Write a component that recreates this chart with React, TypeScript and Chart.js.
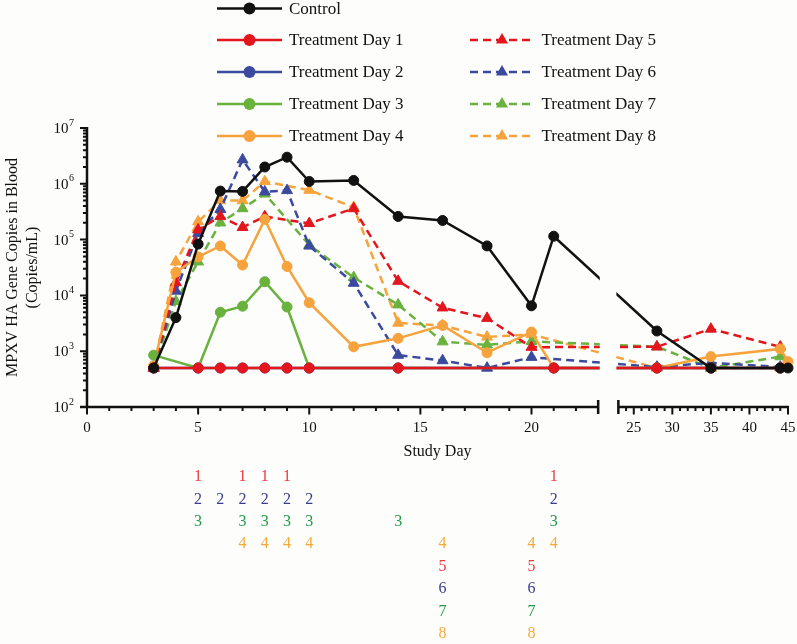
import React, { useEffect, useRef } from 'react';
import { Chart, registerables, LinearScale } from 'chart.js';

Chart.register(...registerables);

// ---------------- data ----------------
const seriesNames = [
  'Control',
  'Treatment Day 1',
  'Treatment Day 2',
  'Treatment Day 3',
  'Treatment Day 4',
  'Treatment Day 5',
  'Treatment Day 6',
  'Treatment Day 7',
  'Treatment Day 8',
];

const controlDays = [3, 4, 5, 6, 7, 8, 9, 10, 12, 14, 16, 18, 20, 21, 28, 35, 44, 45];
const controlValues = [500, 4000, 83000, 740000, 730000, 2000000, 3000000, 1100000, 1150000, 260000, 220000, 77000, 6500, 115000, 2300, 500, 500, 500];

const td1Days = [3, 5, 6, 7, 8, 9, 10, 14, 21, 28, 35, 44];
const td1Values = [500, 500, 500, 500, 500, 500, 500, 500, 500, 500, 500, 500];

const td2Days = [3, 5, 6, 7, 8, 9, 10, 14, 21, 28, 35, 44];
const td2Values = [500, 500, 500, 500, 500, 500, 500, 500, 500, 500, 500, 500];

const td3Days = [3, 5, 6, 7, 8, 9, 10, 14, 21, 28, 35, 44];
const td3Values = [850, 500, 5000, 6400, 17600, 6200, 500, 500, 500, 500, 500, 500];

const td4Days = [3, 4, 5, 6, 7, 8, 9, 10, 12, 14, 16, 18, 20, 21, 28, 35, 44, 45];
const td4Values = [550, 26000, 49000, 77000, 35000, 230000, 33000, 7400, 1200, 1700, 2900, 940, 2200, 500, 500, 800, 1100, 650];

const td5Days = [3, 4, 5, 6, 7, 8, 10, 12, 14, 16, 18, 20, 28, 35, 44];
const td5Values = [500, 17000, 150000, 260000, 166000, 260000, 195000, 360000, 18000, 6000, 3900, 1180, 1200, 2500, 1200];

const td6Days = [3, 4, 5, 6, 7, 8, 9, 10, 12, 14, 16, 18, 20, 28, 35, 44];
const td6Values = [500, 12000, 130000, 350000, 2700000, 720000, 760000, 77000, 16600, 850, 680, 500, 780, 520, 620, 520];

const td7Days = [3, 4, 5, 6, 7, 8, 10, 12, 14, 16, 18, 20, 28, 35, 44];
const td7Values = [500, 7800, 40000, 200000, 360000, 660000, 80000, 21000, 6800, 1480, 1300, 1500, 1200, 500, 800];

const td8Days = [3, 4, 5, 6, 7, 8, 10, 12, 14, 16, 18, 20, 28, 35, 44];
const td8Values = [500, 40000, 210000, 500000, 500000, 1100000, 770000, 380000, 3200, 2900, 1800, 2000, 500, 500, 500];

// treatment-day markers (table under the x axis)
const tableLabels = ['1', '2', '3', '4', '5', '6', '7', '8'];
const td1Dosing = [5, 7, 8, 9, 21];
const td2Dosing = [5, 6, 7, 8, 9, 10, 21];
const td3Dosing = [5, 7, 8, 9, 10, 14, 21];
const td4Dosing = [7, 8, 9, 10, 16, 20, 21];
const td5Dosing = [16, 20];
const td6Dosing = [16, 20];
const td7Dosing = [16, 20];
const td8Dosing = [16, 20];

const xLeftTickLabels = [0, 5, 10, 15, 20];
const xRightTickLabels = [25, 30, 35, 40, 45];
const yDecades = [2, 3, 4, 5, 6, 7];

// ---------------- styling ----------------
const BG = '#fdfdfb';
const FONT = '"Liberation Serif", "Times New Roman", serif';
const INK = '#111111';
const C_BLACK = '#111111';
const C_RED = '#e3161e';
const C_BLUE = '#3b4a9e';
const C_GREEN = '#69b23e';
const C_ORANGE = '#f7a33d';
const T_RED = '#ec3a44';
const T_BLUE = '#3c3d8e';
const T_GREEN = '#239a4c';
const T_ORANGE = '#f6a93b';

const BREAK_DAY = 23;
const LEFT_FRAC = 0.7292;
const RIGHT_START_FRAC = 0.758;

class BrokenLinearScale extends LinearScale {
  static id = 'brokenLinear';
  static defaults = LinearScale.defaults;
  getPixelForValue(value: any) {
    const v = typeof value === 'number' ? value : Number(value);
    const w = this.right - this.left;
    if (v <= BREAK_DAY) {
      return this.left + ((v - this.min) / (BREAK_DAY - this.min)) * w * LEFT_FRAC;
    }
    return this.left + w * RIGHT_START_FRAC + ((v - BREAK_DAY) / (this.max - BREAK_DAY)) * w * (1 - RIGHT_START_FRAC);
  }
  getValueForPixel(pixel: number) {
    const w = this.right - this.left;
    const f = (pixel - this.left) / w;
    if (f <= LEFT_FRAC) return this.min + (f / LEFT_FRAC) * (BREAK_DAY - this.min);
    return BREAK_DAY + ((f - RIGHT_START_FRAC) / (1 - RIGHT_START_FRAC)) * (this.max - BREAK_DAY);
  }
}
Chart.register(BrokenLinearScale);

function pts(days: number[], vals: number[]) {
  return days.map((d, i) => ({ x: d, y: vals[i] }));
}

function drawMarker(ctx: CanvasRenderingContext2D, style: string, x: number, y: number, r: number, color: string) {
  ctx.save();
  ctx.setLineDash([]);
  ctx.fillStyle = color;
  ctx.beginPath();
  if (style === 'triangle') {
    let rad = 0;
    ctx.moveTo(x + Math.sin(rad) * r, y - Math.cos(rad) * r);
    rad += (2 * Math.PI) / 3;
    ctx.lineTo(x + Math.sin(rad) * r, y - Math.cos(rad) * r);
    rad += (2 * Math.PI) / 3;
    ctx.lineTo(x + Math.sin(rad) * r, y - Math.cos(rad) * r);
    ctx.closePath();
  } else {
    ctx.arc(x, y, r, 0, Math.PI * 2);
  }
  ctx.fill();
  ctx.restore();
}

const decorPlugin = {
  id: 'decor',
  beforeDraw(chart: any) {
    const ctx = chart.ctx;
    ctx.save();
    ctx.fillStyle = BG;
    ctx.fillRect(0, 0, chart.width, chart.height);
    ctx.restore();
  },
  afterDraw(chart: any) {
    const ctx: CanvasRenderingContext2D = chart.ctx;
    const xs = chart.scales.x;
    const ys = chart.scales.y;
    const ca = chart.chartArea;
    const xBreakL = xs.getPixelForValue(BREAK_DAY);
    const xBreakR = xs.left + (xs.right - xs.left) * RIGHT_START_FRAC;
    const yBottom = ys.getPixelForValue(100);
    const yTop = ys.getPixelForValue(1e7);
    const x0 = xs.getPixelForValue(0);

    ctx.save();
    // gap in the data lines at the axis break
    ctx.fillStyle = BG;
    ctx.fillRect(xBreakL + 1.6, ca.top - 20, xBreakR - xBreakL - 3.6, yBottom - ca.top + 17);

    ctx.strokeStyle = INK;
    ctx.lineCap = 'butt';
    // y axis
    ctx.lineWidth = 2.5;
    ctx.beginPath();
    ctx.moveTo(x0, yTop - 1);
    ctx.lineTo(x0, yBottom);
    ctx.stroke();
    // x axis, two segments
    ctx.beginPath();
    ctx.moveTo(x0 - 7, yBottom);
    ctx.lineTo(xBreakL, yBottom);
    ctx.moveTo(xBreakR, yBottom);
    ctx.lineTo(xs.getPixelForValue(45) + 1, yBottom);
    ctx.stroke();
    // break caps
    ctx.lineWidth = 2.5;
    ctx.beginPath();
    ctx.moveTo(xBreakL, yBottom - 7);
    ctx.lineTo(xBreakL, yBottom + 7);
    ctx.moveTo(xBreakR, yBottom - 7);
    ctx.lineTo(xBreakR, yBottom + 7);
    ctx.stroke();

    // y ticks
    ctx.lineWidth = 2;
    ctx.beginPath();
    for (const e of yDecades) {
      const py = ys.getPixelForValue(Math.pow(10, e));
      ctx.moveTo(x0 - 7, py);
      ctx.lineTo(x0, py);
      if (e < 7) {
        for (let m = 2; m <= 9; m++) {
          const pm = ys.getPixelForValue(m * Math.pow(10, e));
          ctx.moveTo(x0 - 4, pm);
          ctx.lineTo(x0, pm);
        }
      }
    }
    ctx.stroke();

    // x ticks
    ctx.beginPath();
    for (let d = 0; d <= 45; d++) {
      if (d === BREAK_DAY) continue;
      const px = xs.getPixelForValue(d);
      const len = d % 5 === 0 ? 7.5 : 4;
      ctx.moveTo(px, yBottom);
      ctx.lineTo(px, yBottom + len);
    }
    ctx.stroke();

    // y tick labels
    ctx.fillStyle = INK;
    for (const e of yDecades) {
      const py = ys.getPixelForValue(Math.pow(10, e));
      ctx.font = `15px ${FONT}`;
      ctx.textAlign = 'right';
      ctx.textBaseline = 'middle';
      ctx.fillText('10', 68.5, py + 1);
      ctx.font = `10px ${FONT}`;
      ctx.textAlign = 'left';
      ctx.fillText(String(e), 69, py - 5);
    }

    // x tick labels
    ctx.font = `15px ${FONT}`;
    ctx.textAlign = 'center';
    ctx.textBaseline = 'middle';
    for (const v of [...xLeftTickLabels, ...xRightTickLabels]) {
      ctx.fillText(String(v), xs.getPixelForValue(v), yBottom + 21);
    }

    // axis titles
    ctx.font = `16px ${FONT}`;
    ctx.fillText('Study Day', (xs.left + xs.right) / 2, yBottom + 45);
    const yMid = (yTop + yBottom) / 2;
    ctx.save();
    ctx.translate(13, yMid);
    ctx.rotate(-Math.PI / 2);
    ctx.fillText('MPXV HA Gene Copies in Blood', 0, 0);
    ctx.restore();
    ctx.save();
    ctx.translate(33, yMid);
    ctx.rotate(-Math.PI / 2);
    ctx.fillText('(Copies/mL)', 0, 0);
    ctx.restore();

    // treatment day table
    const rows = [
      [td1Dosing, T_RED], [td2Dosing, T_BLUE], [td3Dosing, T_GREEN], [td4Dosing, T_ORANGE],
      [td5Dosing, T_RED], [td6Dosing, T_BLUE], [td7Dosing, T_GREEN], [td8Dosing, T_ORANGE],
    ] as [number[], string][];
    ctx.font = `16px ${FONT}`;
    rows.forEach(([days, color], i) => {
      ctx.fillStyle = color;
      const py = yBottom + 70 + i * 22.4;
      for (const d of days) {
        ctx.fillText(tableLabels[i], xs.getPixelForValue(d), py);
      }
    });

    // legend
    const ds = chart.data.datasets;
    const leftRows = [8.5, 40, 72, 104, 136];
    const rightRows = [40, 72, 104, 136];
    ctx.font = `17px ${FONT}`;
    ctx.textAlign = 'left';
    ctx.textBaseline = 'middle';
    const drawEntry = (d: any, x1: number, x2: number, xm: number, xt: number, y: number) => {
      ctx.save();
      ctx.strokeStyle = d.borderColor;
      ctx.lineWidth = 2.5;
      ctx.setLineDash(d.borderDash || []);
      ctx.beginPath();
      ctx.moveTo(x1, y);
      ctx.lineTo(x2, y);
      ctx.stroke();
      ctx.restore();
      drawMarker(ctx, d.pointStyle, xm, y, d.pointStyle === 'triangle' ? 7 : 6, d.borderColor);
      ctx.fillStyle = INK;
      ctx.fillText(d.label, xt, y + 1);
    };
    for (let i = 0; i < 5; i++) drawEntry(ds[i], 217, 282, 249.5, 289, leftRows[i]);
    for (let i = 0; i < 4; i++) drawEntry(ds[5 + i], 470, 534, 502, 541.5, rightRows[i]);

    ctx.restore();
  },
};

function makeDataset(label: string, days: number[], vals: number[], color: string, dashed: boolean) {
  return {
    label,
    data: pts(days, vals),
    borderColor: color,
    backgroundColor: color,
    borderWidth: 2.5,
    borderDash: dashed ? [8, 5] : [],
    pointStyle: dashed ? 'triangle' : 'circle',
    pointRadius: dashed ? 6.3 : 5,
    pointBorderWidth: 1,
    pointBackgroundColor: color,
    pointBorderColor: color,
    tension: 0,
    clip: false,
  };
}

export default function App() {
  const ref = useRef<HTMLCanvasElement | null>(null);
  useEffect(() => {
    if (!ref.current) return;
    const chart = new Chart(ref.current, {
      type: 'line',
      data: {
        datasets: [
          makeDataset(seriesNames[0], controlDays, controlValues, C_BLACK, false),
          makeDataset(seriesNames[1], td1Days, td1Values, C_RED, false),
          makeDataset(seriesNames[2], td2Days, td2Values, C_BLUE, false),
          makeDataset(seriesNames[3], td3Days, td3Values, C_GREEN, false),
          makeDataset(seriesNames[4], td4Days, td4Values, C_ORANGE, false),
          makeDataset(seriesNames[5], td5Days, td5Values, C_RED, true),
          makeDataset(seriesNames[6], td6Days, td6Values, C_BLUE, true),
          makeDataset(seriesNames[7], td7Days, td7Values, C_GREEN, true),
          makeDataset(seriesNames[8], td8Days, td8Values, C_ORANGE, true),
        ] as any,
      },
      options: {
        animation: false,
        responsive: false,
        devicePixelRatio: 1,
        layout: { padding: { left: 87, right: 9, top: 128, bottom: 237 } },
        plugins: { legend: { display: false }, tooltip: { enabled: false } },
        scales: {
          x: { type: 'brokenLinear' as any, min: 0, max: 45, display: false },
          y: { type: 'logarithmic', min: 100, max: 1e7, display: false },
        },
      } as any,
      plugins: [decorPlugin],
    });
    return () => chart.destroy();
  }, []);
  return (
    <div style={{ position: 'fixed', left: 0, top: 0, width: 797, height: 644, background: BG }}>
      <canvas ref={ref} width={797} height={644} style={{ display: 'block', width: 797, height: 644 }} />
    </div>
  );
}
